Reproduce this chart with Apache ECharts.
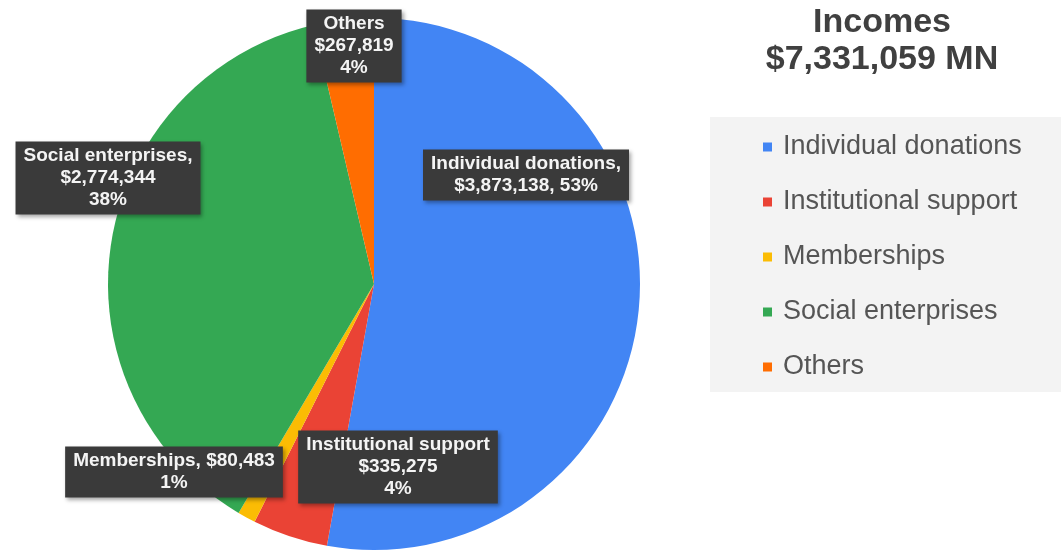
<!DOCTYPE html>
<html>
<head>
<meta charset="utf-8">
<script src="https://cdn.jsdelivr.net/npm/echarts@6/dist/echarts.min.js"></script>
<style>html,body{margin:0;padding:0;background:#fff}#c{width:1061px;height:551px}</style>
</head>
<body>
<div id="c"></div>
<script>
const categories = ['Individual donations', 'Institutional support', 'Memberships', 'Social enterprises', 'Others'];
const values = [3873138, 335275, 80483, 2774344, 267819];
const percentLabels = ['53%', '4%', '1%', '38%', '4%'];
const colors = ['#4285f4', '#ea4335', '#fbbc04', '#34a853', '#ff6d01'];
const titleLines = ['Incomes', '$7,331,059 MN'];

function money(v) { return '$' + v.toLocaleString('en-US'); }
const labelTexts = [
  categories[0] + ',\n' + money(values[0]) + ', ' + percentLabels[0],
  categories[1] + '\n' + money(values[1]) + '\n' + percentLabels[1],
  categories[2] + ', ' + money(values[2]) + '\n' + percentLabels[2],
  categories[3] + ',\n' + money(values[3]) + '\n' + percentLabels[3],
  categories[4] + '\n' + money(values[4]) + '\n' + percentLabels[4]
];
const labelSpots = [[526, 175], [398, 467], [174, 472], [108, 178], [354, 46]];

const chart = echarts.init(document.getElementById('c'));
chart.setOption({
  backgroundColor: '#ffffff',
  animation: false,
  color: colors,
  title: {
    text: titleLines.join('\n'),
    left: 877,
    top: -1,
    textAlign: 'center',
    textStyle: { fontFamily: 'Liberation Sans', fontWeight: 'bold', fontSize: 34, lineHeight: 37, color: '#404040' }
  },
  legend: {
    orient: 'vertical',
    left: 710,
    top: 117,
    padding: [15, 45, 10, 53],
    backgroundColor: '#f3f3f3',
    itemWidth: 9,
    itemHeight: 9,
    itemGap: 25,
    icon: 'rect',
    data: categories,
    textStyle: { fontFamily: 'Liberation Sans', fontSize: 27, lineHeight: 30, color: '#555555', padding: [0, 0, 0, 6] }
  },
  series: [{
    type: 'pie',
    center: [374, 284],
    radius: 266,
    startAngle: 90,
    clockwise: true,
    data: categories.map((c, i) => ({ name: c, value: values[i] })),
    label: {
      show: true,
      position: 'inside',
      formatter: p => labelTexts[p.dataIndex],
      fontFamily: 'Liberation Sans',
      fontWeight: 'bold',
      fontSize: 19,
      lineHeight: 22,
      color: '#f4f4f4',
      align: 'center',
      backgroundColor: '#3a3a3a',
      padding: [4, 8, 3, 8],
      shadowColor: 'rgba(0,0,0,0.35)',
      shadowBlur: 4,
      shadowOffsetX: 2,
      shadowOffsetY: 2
    },
    labelLine: { show: false },
    labelLayout: p => ({ x: labelSpots[p.dataIndex][0], y: labelSpots[p.dataIndex][1], align: 'center', verticalAlign: 'middle' }),
    itemStyle: { borderWidth: 0 },
    emphasis: { disabled: true }
  }]
});
</script>
</body>
</html>
